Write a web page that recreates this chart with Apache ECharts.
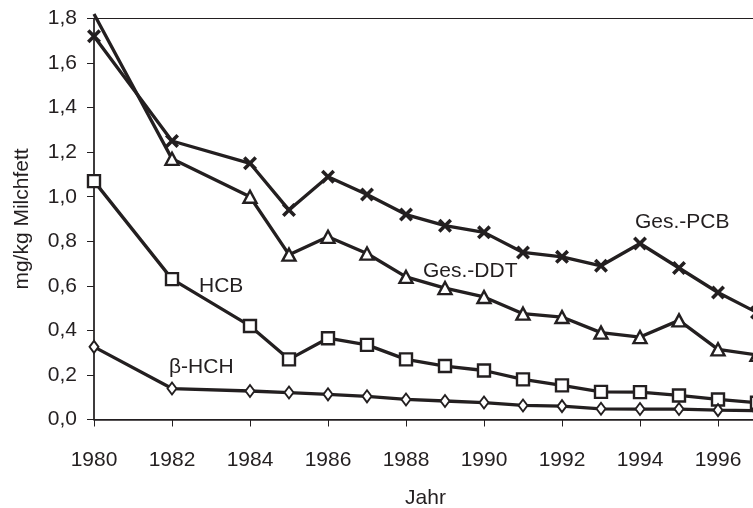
<!DOCTYPE html>
<html>
<head>
<meta charset="utf-8">
<script src="https://cdn.jsdelivr.net/npm/echarts@6/dist/echarts.min.js"></script>
<style>
html,body{margin:0;padding:0;background:#fff;}
#chart{width:753px;height:508px;}
</style>
</head>
<body>
<div id="chart"></div>
<script>
const years = [1980,1982,1984,1985,1986,1987,1988,1989,1990,1991,1992,1993,1994,1995,1996,1997];
const pcb  = [1.72,1.25,1.15,0.94,1.09,1.01,0.92,0.87,0.84,0.75,0.73,0.69,0.79,0.68,0.57,0.48];
const ddt  = [1.82,1.17,1.00,0.74,0.82,0.745,0.64,0.59,0.55,0.475,0.46,0.39,0.37,0.445,0.315,0.29];
const hcb  = [1.07,0.63,0.42,0.27,0.365,0.335,0.27,0.24,0.22,0.18,0.153,0.124,0.123,0.108,0.09,0.075];
const bhch = [0.326,0.139,0.128,0.121,0.113,0.104,0.09,0.083,0.076,0.063,0.06,0.048,0.047,0.047,0.042,0.04];
const seriesNames = ['Ges.-PCB','Ges.-DDT','HCB','β-HCH'];
const yMax = 1.8;

const INK = '#231f20';
const FONT = 'Liberation Sans, Arial, Helvetica, sans-serif';
const xPath = 'path://M0,1.8 L1.8,0 L5,3.2 L8.2,0 L10,1.8 L6.8,5 L10,8.2 L8.2,10 L5,6.8 L1.8,10 L0,8.2 L3.2,5 Z';

function pts(vals){
  return years.map((y,i)=> vals[i] > yMax ? {value:[y,vals[i]], symbol:'none'} : [y, vals[i]]);
}

const chart = echarts.init(document.getElementById('chart'), null, {renderer:'canvas'});
const base = {type:'line', lineStyle:{color:INK, width:3.3}, z:3, animation:false};
chart.setOption({
  animation:false,
  backgroundColor:'#fff',
  textStyle:{fontFamily:FONT, color:INK},
  grid:{left:94, right:-4, top:18.5, bottom:88.5, show:true, borderColor:INK, borderWidth:1, containLabel:false, outerBoundsMode:'none'},
  xAxis:{
    type:'value', min:1980, max:1997, interval:2,
    name:'Jahr', nameLocation:'middle', nameGap:68,
    nameTextStyle:{fontSize:21, color:INK, fontFamily:FONT},
    axisLine:{lineStyle:{color:INK, width:1.5}},
    axisTick:{show:true, length:7, lineStyle:{color:INK, width:1}},
    axisLabel:{fontSize:21, color:INK, fontFamily:FONT, margin:30, showMaxLabel:false, formatter:v=>String(v)},
    splitLine:{show:false}
  },
  yAxis:{
    type:'value', min:0, max:yMax, interval:0.2,
    name:'mg/kg Milchfett', nameLocation:'middle', nameGap:61, nameRotate:90,
    nameTextStyle:{fontSize:21, color:INK, fontFamily:FONT},
    axisLine:{show:true, lineStyle:{color:INK, width:1.5}},
    axisTick:{show:true, length:7, lineStyle:{color:INK, width:1}},
    axisLabel:{fontSize:21, color:INK, fontFamily:FONT, margin:17, formatter:v=>v.toFixed(1).replace('.',',')},
    splitLine:{show:false}
  },
  series:[
    Object.assign({}, base, {name:seriesNames[0], data:pts(pcb), symbol:xPath, symbolSize:14,
      itemStyle:{color:INK, borderWidth:0}}),
    Object.assign({}, base, {name:seriesNames[1], data:pts(ddt), clip:false, symbol:'triangle', symbolSize:[13,12],
      itemStyle:{color:'#fff', borderColor:INK, borderWidth:2.4}}),
    Object.assign({}, base, {name:seriesNames[2], data:pts(hcb), symbol:'rect', symbolSize:12,
      itemStyle:{color:'#fff', borderColor:INK, borderWidth:2.4}}),
    Object.assign({}, base, {name:seriesNames[3], data:pts(bhch), symbol:'diamond', symbolSize:[9,12],
      itemStyle:{color:'#fff', borderColor:INK, borderWidth:1.9}})
  ],
  graphic:[
    {type:'text', x:635, y:222, style:{text:seriesNames[0], font:'21px '+FONT, fill:INK, textVerticalAlign:'middle', verticalAlign:'middle'}},
    {type:'text', x:423, y:271, style:{text:seriesNames[1], font:'21px '+FONT, fill:INK, textVerticalAlign:'middle', verticalAlign:'middle'}},
    {type:'text', x:199, y:286, style:{text:seriesNames[2], font:'21px '+FONT, fill:INK, textVerticalAlign:'middle', verticalAlign:'middle'}},
    {type:'text', x:169, y:367, style:{text:seriesNames[3], font:'21px '+FONT, fill:INK, textVerticalAlign:'middle', verticalAlign:'middle'}}
  ]
});
</script>
</body>
</html>
